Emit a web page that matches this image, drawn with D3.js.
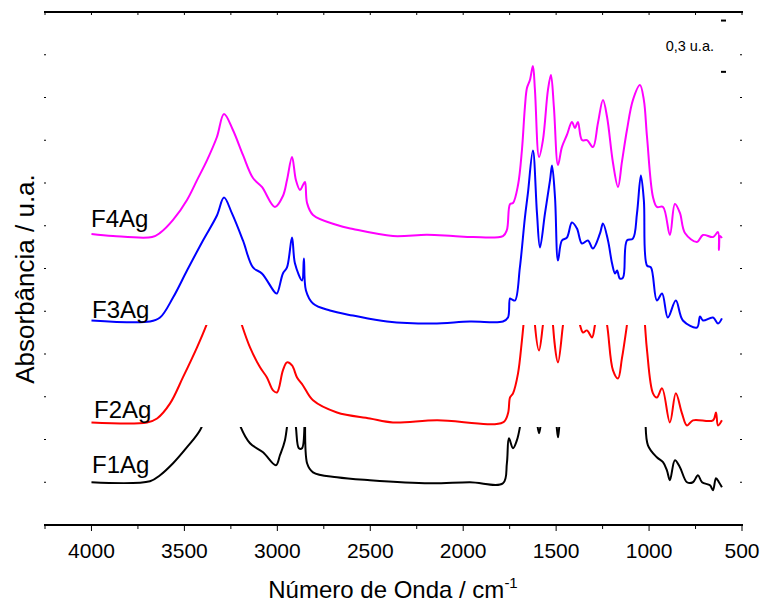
<!DOCTYPE html>
<meta charset="utf-8">
<style>
body { margin: 0; background: #fff; }
svg { font-family: Arial, "Liberation Sans", sans-serif; }
.trace { fill: none; stroke-width: 2px; stroke-linejoin: round; }
</style>
<body>
<svg width="763" height="606"></svg>
<script src="https://d3js.org/d3.v7.min.js"></script>
<script>
// spectra: wavenumber (cm-1) and absorbance above each trace's own baseline
var f1Wn  = [4000,3685,3631,3561,3486,3416,3363,3287,3244,3201,3147,3077,3008,2986,2959,2921,2900,2884,2867,2851,2840,2808,2679,2502,2179,1964,1786,1765,1754,1732,1711,1695,1668,1625,1601,1592,1583,1560,1522,1498,1490,1482,1460,1399,1318,1248,1183,1157,1103,1049,1022,1006,958,925,904,888,861,834,796,764,737,715,672,656,640,624,608];
var f1Abs = [0,0.006,0.041,0.111,0.205,0.304,0.45,0.655,0.509,0.333,0.228,0.175,0.099,0.158,0.246,0.538,0.322,0.199,0.199,0.48,0.111,0.058,0.029,0.012,-0.006,0,-0.006,0.111,0.257,0.199,0.246,0.322,0.538,0.713,0.335,0.287,0.335,0.5,0.596,0.335,0.263,0.335,0.5,0.538,0.509,0.596,0.45,0.421,0.596,0.713,0.421,0.216,0.146,0.117,0.07,0.012,0.129,0.088,0,0,0.041,0,-0.018,-0.047,0.023,0,-0.029];

var f2Wn  = [4000,3701,3647,3577,3508,3432,3378,3325,3287,3239,3190,3147,3093,3056,3023,3002,2970,2948,2921,2894,2862,2808,2679,2502,2378,2141,1786,1759,1748,1732,1705,1684,1657,1625,1614,1592,1571,1544,1522,1517,1490,1463,1445,1415,1372,1356,1334,1307,1291,1260,1226,1194,1167,1146,1119,1087,1049,1022,1011,979,958,930,888,856,823,796,764,656,640,629,608];
var f2Abs = [0,0,0.023,0.111,0.263,0.439,0.579,0.743,0.936,0.743,0.567,0.439,0.322,0.263,0.187,0.175,0.304,0.351,0.333,0.263,0.216,0.129,0.058,0.023,0,0.012,0,0.053,0.146,0.17,0.287,0.48,0.772,1.006,0.57,0.421,0.57,0.82,0.918,0.57,0.351,0.57,0.7,0.72,0.57,0.526,0.538,0.497,0.57,0.75,0.57,0.304,0.257,0.374,0.57,0.83,0.977,0.57,0.421,0.17,0.146,0.199,0,0.17,0.053,-0.018,0.012,0.012,0.058,-0.018,0.012];

var f3Wn  = [4000,3685,3631,3561,3486,3400,3325,3287,3244,3185,3131,3083,3013,3002,2970,2948,2921,2905,2867,2857,2846,2808,2717,2593,2410,2163,1964,1786,1759,1748,1738,1721,1695,1668,1652,1625,1603,1587,1560,1533,1522,1506,1490,1469,1442,1415,1388,1361,1329,1302,1264,1248,1221,1199,1183,1172,1157,1140,1119,1087,1065,1044,1028,1011,990,958,930,899,856,818,742,726,710,656,629,608];
var f3Abs = [0.006,0,0.023,0.14,0.298,0.474,0.62,0.725,0.632,0.474,0.316,0.281,0.17,0.164,0.281,0.316,0.491,0.339,0.24,0.368,0.181,0.105,0.064,0.035,0,-0.012,0,0,0.023,0.135,0.129,0.123,0.316,0.608,0.749,1.0,0.632,0.433,0.632,0.825,0.912,0.725,0.357,0.474,0.491,0.579,0.544,0.456,0.474,0.427,0.515,0.573,0.474,0.339,0.281,0.298,0.251,0.257,0.474,0.485,0.632,0.854,0.708,0.327,0.316,0.123,0.164,0.023,0.123,0.006,-0.035,0.03,0.006,0.023,-0.012,0.018];

var f4Wn  = [4000,3884,3674,3631,3561,3486,3432,3378,3325,3287,3239,3185,3131,3083,3013,2970,2948,2921,2900,2878,2862,2851,2840,2808,2679,2593,2378,2195,2055,1947,1786,1765,1748,1732,1705,1684,1668,1657,1641,1625,1614,1592,1571,1544,1528,1512,1490,1469,1442,1415,1399,1383,1361,1334,1302,1275,1248,1226,1194,1167,1146,1119,1087,1049,1028,1011,979,958,925,888,861,834,807,742,710,656,629,624,618,608];
var f4Abs = [0.012,0,-0.006,0.018,0.094,0.211,0.327,0.444,0.579,0.713,0.62,0.474,0.339,0.287,0.17,0.234,0.327,0.462,0.327,0.269,0.298,0.316,0.193,0.123,0.064,0.041,0,0.008,0,-0.006,0,0.035,0.187,0.193,0.298,0.503,0.754,0.865,0.912,0.994,0.854,0.462,0.561,0.854,0.942,0.754,0.415,0.52,0.591,0.667,0.632,0.667,0.561,0.561,0.52,0.661,0.795,0.696,0.427,0.287,0.433,0.62,0.795,0.883,0.795,0.579,0.228,0.17,0.17,0.006,0.187,0.135,0.018,-0.035,0.006,-0.006,0.023,-0.082,0,-0.012];

var names   = ["F1Ag", "F2Ag", "F3Ag", "F4Ag"];
var colors  = ["#000000", "#ff0000", "#0000ff", "#ff00ff"];
var offsets = [0.25, 0.60, 1.19, 1.69];
var clipTop = [0.573, 1.17, null, null];   // upper limit of each layer
var xTicks  = [4000, 3500, 3000, 2500, 2000, 1500, 1000, 500];

var spectra = [[f1Wn, f1Abs], [f2Wn, f2Abs], [f3Wn, f3Abs], [f4Wn, f4Abs]].map(function(s, i) {
  return {
    name: names[i], color: colors[i], offset: offsets[i], clip: clipTop[i],
    values: s[0].map(function(w, j) { return {wn: w, a: s[1][j]}; })
  };
});

var svg = d3.select("svg"),
    plotL = 45, plotR = 742, plotT = 12, plotB = 525;

var x = d3.scaleLinear().domain([4250, 500]).range([plotL, plotR]),
    y = d3.scaleLinear().domain([0, 3]).range([plotB, plotT]);

var line = d3.line()
    .curve(d3.curveCatmullRom.alpha(0.5))
    .x(function(d) { return x(d.wn); });

var defs = svg.append("defs");

spectra.forEach(function(s, i) {
  var g = svg.append("g");
  if (s.clip != null) {
    defs.append("clipPath").attr("id", "clip" + i)
      .append("rect")
        .attr("x", plotL).attr("width", plotR - plotL)
        .attr("y", y(s.clip)).attr("height", plotB - y(s.clip));
    g.attr("clip-path", "url(#clip" + i + ")");
  }
  g.append("path")
      .attr("class", "trace")
      .attr("stroke", s.color)
      .attr("d", line.y(function(d) { return y(d.a + s.offset); })(s.values));
});

// series labels
var labelPos = [[92, 473], [94, 418], [92, 318], [91, 227]];
svg.selectAll(".lbl")
  .data(spectra)
  .enter().append("text")
    .attr("class", "lbl")
    .attr("x", function(d, i) { return labelPos[i][0]; })
    .attr("y", function(d, i) { return labelPos[i][1]; })
    .style("font-size", "24px")
    .text(function(d) { return d.name; });

// bottom axis
var xb = svg.append("g").attr("transform", "translate(0," + plotB + ")");
xb.append("line").attr("x1", plotL - 1).attr("x2", plotR + 1)
    .attr("stroke", "#000").attr("stroke-width", 2);
xb.selectAll(".mt").data(d3.range(4250, 499, -250)).enter().append("line")
    .attr("x1", function(d) { return x(d); }).attr("x2", function(d) { return x(d); })
    .attr("y1", 1).attr("y2", function(d) { return d % 500 === 0 ? 6 : 4; })
    .attr("stroke", "#000").attr("stroke-width", 1);
xb.selectAll(".tl").data(xTicks).enter().append("text")
    .attr("x", function(d) { return x(d); })
    .attr("y", 33)
    .attr("text-anchor", "middle")
    .style("font-size", "21px")
    .text(function(d) { return d; });

// top axis
var xt = svg.append("g").attr("transform", "translate(0," + plotT + ")");
xt.append("line").attr("x1", plotL - 1).attr("x2", plotR + 1)
    .attr("stroke", "#000").attr("stroke-width", 2);
xt.selectAll(".mt").data(d3.range(4250, 499, -250)).enter().append("line")
    .attr("x1", function(d) { return x(d); }).attr("x2", function(d) { return x(d); })
    .attr("y1", 0).attr("y2", 3)
    .attr("stroke", "#000").attr("stroke-width", 1);

// left / right tick marks without labels
var yTicks = d3.range(0.25, 2.8, 0.25);
[plotL, plotR - 1].forEach(function(px) {
  svg.append("g").selectAll("line").data(yTicks).enter().append("line")
      .attr("x1", px - 1).attr("x2", px + 1)
      .attr("y1", function(d) { return y(d); }).attr("y2", function(d) { return y(d); })
      .attr("stroke", "#000").attr("stroke-width", 1.2);
});

// scale bar 0,3 u.a.
[2.95, 2.65].forEach(function(v) {
  svg.append("line")
      .attr("x1", 721).attr("x2", 726)
      .attr("y1", y(v)).attr("y2", y(v))
      .attr("stroke", "#000").attr("stroke-width", 2);
});
svg.append("text")
    .attr("x", 714).attr("y", y(2.8) + 5)
    .attr("text-anchor", "end")
    .style("font-size", "14.5px")
    .text("0,3 u.a.");

// axis titles
var xt2 = svg.append("text")
    .attr("x", 393).attr("y", 598)
    .attr("text-anchor", "middle")
    .style("font-size", "24px");
xt2.append("tspan").text("Número de Onda / cm");
xt2.append("tspan").attr("dy", -10).style("font-size", "15px").text("-1");

svg.append("text")
    .attr("transform", "translate(34,279) rotate(-90)")
    .attr("text-anchor", "middle")
    .style("font-size", "26px")
    .text("Absorbância / u.a.");
</script>
</body>
